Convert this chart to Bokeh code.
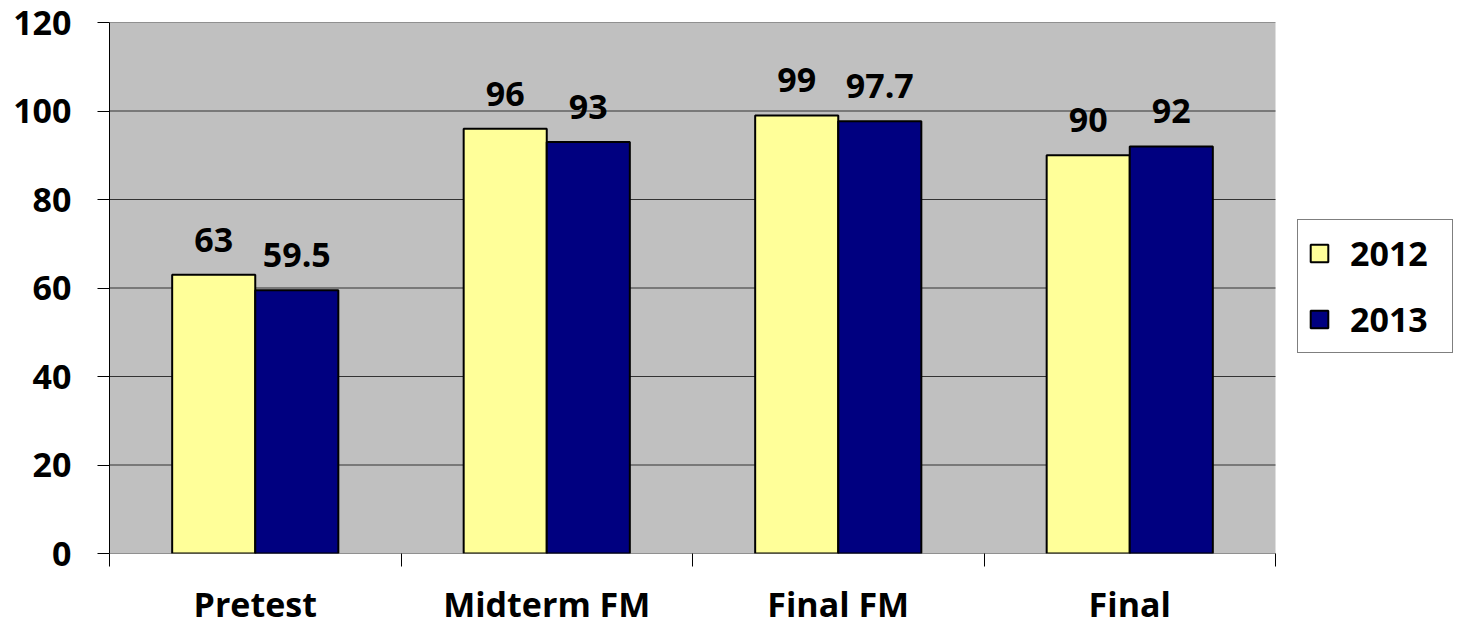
from bokeh.plotting import figure
from bokeh.models import ColumnDataSource, FixedTicker, Legend, LegendItem, Range1d
from bokeh.transform import dodge
from bokeh.core.properties import value
from bokeh.embed import file_html
from bokeh.resources import INLINE

categories = ["Pretest", "Midterm FM", "Final FM", "Final"]
series_names = ["2012", "2013"]
values_2012 = [63, 96, 99, 90]
values_2013 = [59.5, 93, 97.7, 92]
y_ticks = [0, 20, 40, 60, 80, 100, 120]

FONT = "Open Sans"
FS = "34px"
YELLOW = "#FFFF99"
NAVY = "#000080"
GRAY = "#C0C0C0"
BW = 0.285

W = 1458
LEFT, TOP, BOTTOM = 109, 22, 72
FRAME_H = 531
PLOT_AREA_PX = 1166          # width of the gray plot area in pixels
frame_w = W - LEFT
n = len(categories)
x_end = n * frame_w / PLOT_AREA_PX

centers = [i + 0.5 for i in range(n)]
src = ColumnDataSource(dict(
    x=centers,
    v12=values_2012,
    v13=values_2013,
    t12=[f"{v:g}" for v in values_2012],
    t13=[f"{v:g}" for v in values_2013],
))

p = figure(frame_width=frame_w, frame_height=FRAME_H, output_backend="svg",
           toolbar_location=None,
           x_range=Range1d(0, x_end), y_range=Range1d(y_ticks[0], y_ticks[-1]),
           min_border_left=LEFT, min_border_right=0, min_border_top=TOP,
           min_border_bottom=BOTTOM)
p.background_fill_color = "white"
p.border_fill_color = "white"
p.outline_line_color = None
p.xgrid.grid_line_color = None
p.ygrid.grid_line_color = None

# gray plot area and gridlines, limited to the category span
p.quad(left=0, right=n, bottom=y_ticks[0], top=y_ticks[-1],
       fill_color=GRAY, line_color=None)
p.segment(x0=[0] * len(y_ticks), x1=[n] * len(y_ticks), y0=y_ticks, y1=y_ticks,
          line_color="#333333", line_width=1.2)

r12 = p.vbar(x=dodge("x", -BW / 2, range=p.x_range), top="v12", width=BW, source=src,
             fill_color=YELLOW, line_color="black", line_width=2)
r13 = p.vbar(x=dodge("x", BW / 2, range=p.x_range), top="v13", width=BW, source=src,
             fill_color=NAVY, line_color="black", line_width=2)

for col, top, off in (("t12", "v12", -BW / 2), ("t13", "v13", BW / 2)):
    p.text(x=dodge("x", off, range=p.x_range), y=top, text=col, source=src,
           text_font=value(FONT), text_font_style="bold", text_font_size=FS,
           text_align="center", text_baseline="alphabetic", y_offset=-35,
           text_color="black")

# y axis
p.yaxis.ticker = FixedTicker(ticks=y_ticks)
p.yaxis.major_tick_out = 12
p.yaxis.major_tick_in = 0
p.yaxis.minor_tick_line_color = None
p.yaxis.axis_line_color = "black"
p.yaxis.major_tick_line_color = "black"
p.yaxis.major_label_text_font = FONT
p.yaxis.major_label_text_font_style = "bold"
p.yaxis.major_label_text_font_size = FS
p.yaxis.major_label_text_color = "black"
p.yaxis.major_label_standoff = 26

# x axis
p.xaxis.ticker = FixedTicker(ticks=centers, minor_ticks=list(range(n + 1)))
p.xaxis.major_label_overrides = {c: name for c, name in zip(centers, categories)}
p.xaxis.major_tick_line_color = None
p.xaxis.minor_tick_out = 13
p.xaxis.minor_tick_in = 0
p.xaxis.minor_tick_line_color = "black"
p.xaxis.axis_line_color = None
p.xaxis.major_label_text_font = FONT
p.xaxis.major_label_text_font_style = "bold"
p.xaxis.major_label_text_font_size = FS
p.xaxis.major_label_text_color = "black"
p.xaxis.major_label_standoff = 14

legend = Legend(items=[LegendItem(label=series_names[0], renderers=[r12]),
                       LegendItem(label=series_names[1], renderers=[r13])],
                location=(1188, 200))
legend.label_text_font = FONT
legend.label_text_font_style = "bold"
legend.label_text_font_size = FS
legend.label_text_color = "black"
legend.glyph_width = 22
legend.glyph_height = 22
legend.label_standoff = 20
legend.label_width = 92
legend.spacing = 20
legend.padding = 10
legend.margin = 0
legend.border_line_color = "black"
legend.border_line_width = 1
legend.background_fill_color = "white"
legend.background_fill_alpha = 1
p.add_layout(legend, "center")

open("out.html", "w").write(file_html(p, INLINE))
